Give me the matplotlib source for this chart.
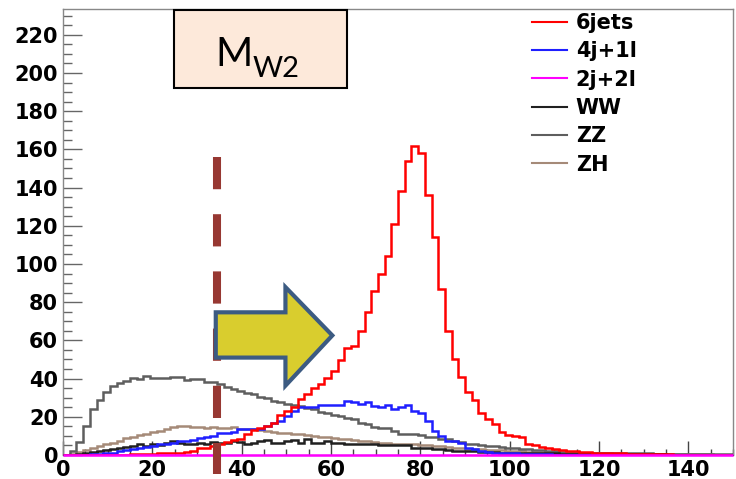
import numpy as np
import matplotlib.pyplot as plt
from matplotlib.patches import Polygon, Rectangle
from matplotlib.ticker import MultipleLocator

# 100 bins of 1.5 GeV from 0 to 150
edges = np.arange(0, 150.01, 1.5)

jets6 = [0, 0, 0, 0, 0, 0, 0, 0, 0, 0,
         0.3, 0.3, 0.3, 0.3, 0.8, 1, 1, 1.2, 1.5, 2,
         3.5, 3.7, 4.5, 6, 7, 8, 8.5, 11, 13, 14,
         15, 17, 21, 23, 25, 29.5, 32, 35, 37, 40.5,
         44, 49.5, 56, 57, 65, 75, 86, 95, 104, 121,
         138, 154, 162, 158, 136, 114, 87, 65, 50, 41,
         33, 29, 22, 19, 16, 12, 10.5, 10, 9.5, 6,
         5, 4, 3.5, 3, 2.5, 2, 2, 1.5, 1.5, 1.2,
         1, 1, 0.8, 0.8, 0.6, 0.5, 0.5, 0.4, 0.4, 0.3,
         0.3, 0.2, 0.2, 0.2, 0.2, 0.1, 0.1, 0.1, 0.1, 0.1]

j4l1 = [0, 0, 0, 0, 0.3, 0.5, 0.8, 1, 2, 2.5,
        3, 3.5, 4, 4.5, 5.5, 6, 6.5, 7.5, 7.4, 8,
        9, 9.5, 10, 11.5, 11.6, 12, 13.5, 13.5, 13.5, 13.7,
        15, 17, 18, 20.5, 23, 25, 25, 25, 26.3, 26.3,
        26.3, 26.3, 28.4, 27.5, 26.8, 27.5, 25.8, 25, 26, 24,
        25, 26, 23, 22, 18, 12.6, 10, 7.4, 7.4, 6.3,
        3.7, 3, 2, 1.5, 1.2, 1, 1, 0.8, 0.6, 0.5,
        0.4, 0.3, 0.3, 0.2, 0.2, 0.2, 0.1, 0.1, 0.1, 0.1,
        0.1, 0.1, 0.1, 0.1, 0.1, 0.1, 0, 0, 0, 0,
        0, 0, 0, 0, 0, 0, 0, 0, 0, 0]

j2l2 = [0, 0, 0, 0, 0, 0, 0, 0, 0, 0,
        0, 0, 0, 0, 0, 0, 0, 0, 0, 0,
        0, 0, 0, 0, 0, 0, 0, 0, 0, 0,
        0, 0, 0, 0, 0, 0, 0, 0, 0, 0,
        0, 0, 0, 0, 0, 0, 0, 0, 0, 0,
        0, 0, 0, 0, 0, 0, 0, 0, 0, 0,
        0, 0, 0, 0, 0, 0, 0, 0, 0, 0,
        0, 0, 0, 0, 0, 0, 0, 0, 0, 0,
        0, 0, 0, 0, 0, 0, 0, 0, 0, 0,
        0, 0, 0, 0, 0, 0, 0, 0, 0, 0]

ww = [0, 0, 0.5, 1.2, 1.5, 2, 2.5, 3, 3.7, 4,
      4.7, 5.8, 4.7, 6, 5, 6.5, 7.4, 6.5, 6, 5.8,
      6.5, 5.8, 7, 6.5, 6.5, 7.4, 6.8, 5.5, 6.5, 7.4,
      8, 6.5, 6.5, 7.4, 8, 6.5, 8.4, 6.5, 6.5, 7.4,
      6.5, 6.5, 5.8, 6, 6, 6, 5.8, 5.3, 5.3, 5.3,
      5, 5.3, 3.8, 3.8, 3.8, 3, 3, 2.5, 2, 2,
      2, 2, 1.8, 1.5, 1.5, 1.3, 1.2, 1.2, 1, 1,
      0.9, 0.9, 0.8, 0.8, 0.7, 0.7, 0.6, 0.6, 0.5, 0.5,
      0.4, 0.4, 0.4, 0.4, 0.3, 0.3, 0.3, 0.3, 0.3, 0.3,
      0.2, 0.2, 0.2, 0.2, 0.2, 0.2, 0.2, 0.2, 0.2, 0.2]

zz = [0, 2, 7, 15, 24, 29, 33, 36, 37.5, 38.5,
      40.5, 40, 41.5, 40.5, 40.3, 40.3, 41, 41, 39.5, 39.7,
      39.7, 38, 38, 37.3, 35.4, 34.5, 33.7, 32.5, 32, 30.5,
      30, 28.5, 28, 26.8, 26, 25.5, 24.5, 24, 22.5, 22,
      21, 20.5, 19.5, 19, 17, 16.3, 14.4, 14, 14, 12.6,
      11.2, 11.2, 11, 10.5, 9.5, 9.5, 8.4, 8.4, 7.4, 7,
      6, 5.8, 5.3, 4.7, 4.5, 4.2, 3.8, 3.6, 3.2, 3,
      2.8, 2.4, 2, 2, 1.8, 1.5, 1.5, 1.3, 1.2, 1.2,
      1.1, 1, 1, 0.9, 0.9, 0.8, 0.8, 0.8, 0.7, 0.7,
      0.7, 0.6, 0.6, 0.6, 0.5, 0.5, 0.5, 0.5, 0.4, 0.4]

zh = [0, 0.5, 1.5, 2.5, 3.7, 4.7, 5.8, 6.5, 7.4, 8.9,
      9.6, 10.5, 11.2, 12, 12.6, 13.5, 14.4, 15.3, 15, 14.4,
      14.4, 14.2, 14.4, 14, 14, 14.4, 13.5, 13.5, 13.5, 13,
      12.6, 12.2, 11.7, 11.5, 11, 11, 10.5, 10, 9.5, 9.5,
      9, 8.6, 8.4, 8, 7.4, 7.2, 7, 6.5, 6.2, 6,
      6, 5.8, 5.5, 5.3, 5, 4.8, 4.5, 4, 3.8, 3.6,
      3.4, 3.2, 3, 2.8, 2.6, 2.4, 2.2, 2, 1.9, 1.8,
      1.6, 1.5, 1.4, 1.3, 1.2, 1.1, 1, 1, 0.9, 0.9,
      0.8, 0.8, 0.7, 0.7, 0.6, 0.6, 0.6, 0.5, 0.5, 0.5,
      0.4, 0.4, 0.4, 0.3, 0.3, 0.3, 0.3, 0.2, 0.2, 0.2]

labels = ['6jets', '4j+1l', '2j+2l', 'WW', 'ZZ', 'ZH']
colors = ['#ff0000', '#1f1fff', '#ff00ff', '#202020', '#5e5e5e', '#a58a78']
series = [jets6, j4l1, j2l2, ww, zz, zh]
cut = 34.4

fig = plt.figure(figsize=(7.36, 4.79), dpi=100)
ax = fig.add_axes([63/736, 1 - 455/479, 670/736, 446/479])

# draw in reverse so the signal sits on top
handles = {}
for lab, col, vals in reversed(list(zip(labels, colors, series))):
    st = ax.stairs(vals, edges, color=col, lw=1.8, baseline=0, label=lab,
                   zorder=3 if lab != '2j+2l' else 4)
    if lab == '2j+2l':
        st.set_clip_on(False)
    handles[lab] = st

ax.set_xlim(0, 150)
ax.set_ylim(0, 233.5)
ax.xaxis.set_major_locator(MultipleLocator(20))
ax.xaxis.set_minor_locator(MultipleLocator(5))
ax.yaxis.set_major_locator(MultipleLocator(20))
ax.yaxis.set_minor_locator(MultipleLocator(5))
ax.tick_params(axis='y', which='major', direction='in', length=13.5, width=1, color='#666666', pad=3.6)
ax.tick_params(axis='y', which='minor', direction='in', length=6.5, width=1, color='#666666')
ax.tick_params(axis='x', which='major', direction='in', length=10, width=1, color='#444444', pad=3.6)
ax.tick_params(axis='x', which='minor', direction='in', length=4.5, width=1, color='#444444')
for lbl in ax.get_xticklabels() + ax.get_yticklabels():
    lbl.set_fontfamily('DejaVu Sans')
    lbl.set_fontweight('bold')
    lbl.set_fontsize(15)
for s in ['top', 'right', 'left']:
    ax.spines[s].set_color('#888888')
    ax.spines[s].set_linewidth(1)
ax.spines['bottom'].set_color('#444444')

# cut line
ax.plot([cut, cut], [155.8, -10], color='#973832', lw=5.8, dashes=(4, 3.1),
        solid_capstyle='butt', dash_capstyle='butt', clip_on=False, zorder=5)

# arrow
arrow = Polygon([(34.2, 51), (34.2, 74.7), (49.8, 74.7), (49.8, 87.9),
                 (60.3, 62.6), (49.8, 36.3), (49.8, 51)], closed=True,
                facecolor='#d9cd2e', edgecolor='#3c5b82', lw=3, joinstyle='miter', zorder=6)
ax.add_patch(arrow)

# legend
leg = ax.legend([handles[l] for l in labels], labels, loc='upper left',
                bbox_to_anchor=(532/736, 1 - 13/479), bbox_transform=fig.transFigure,
                frameon=False, borderpad=0, borderaxespad=0, handlelength=1.7,
                handletextpad=0.4, labelspacing=0.4,
                prop={'family': 'DejaVu Sans', 'weight': 'bold', 'size': 15})
for h in leg.legend_handles:
    h.set_linewidth(1.5)

# label box
fig.patches.append(Rectangle((174/736, 1 - 88/479), 173/736, 78/479, transform=fig.transFigure,
                             facecolor='#fde9da', edgecolor='black', lw=1.5, zorder=7))
fig.text(215/736, 1 - 66/479, 'M', family='Lato', fontsize=29, ha='left', va='baseline', zorder=8)
fig.text(253/736, 1 - 77/479, 'W2', family='Lato', fontsize=21, ha='left', va='baseline', zorder=8)

fig.savefig('out.png', dpi=100)
